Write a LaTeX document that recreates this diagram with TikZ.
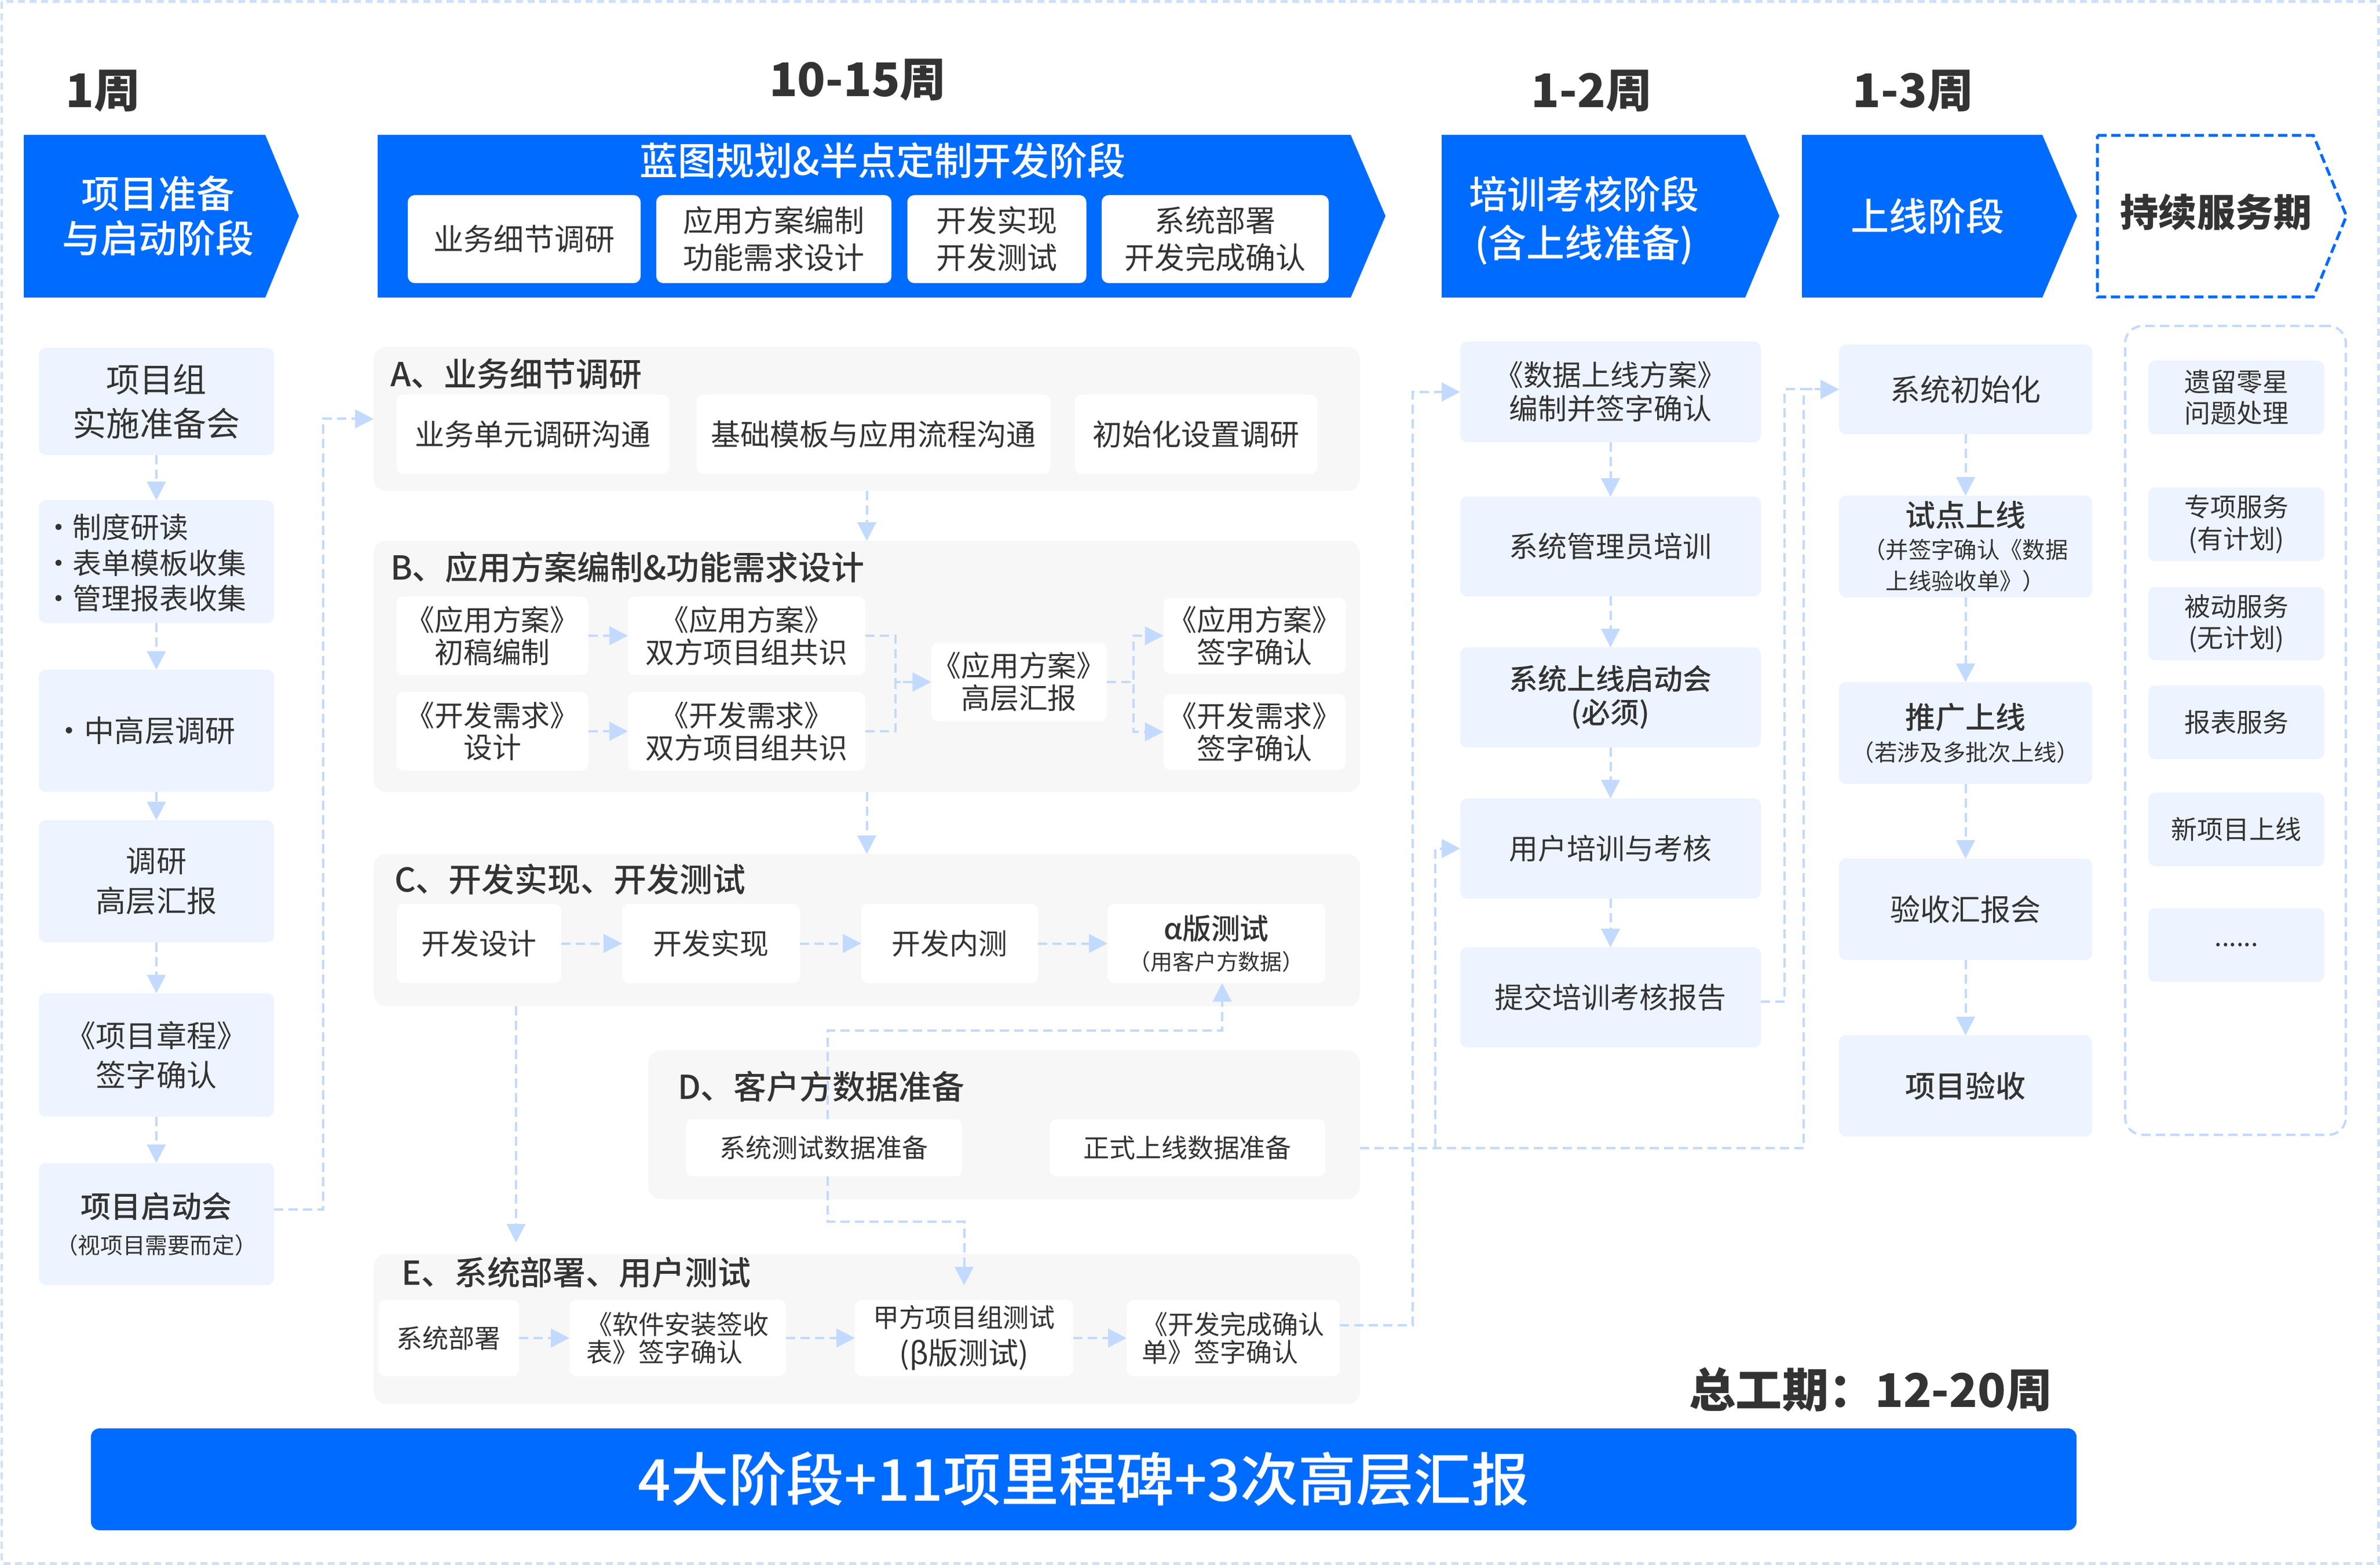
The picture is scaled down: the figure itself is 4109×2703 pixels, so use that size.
\documentclass[tikz,border=0pt]{standalone}
\usepackage{fontspec}
\setmainfont{Noto Sans CJK SC}
\newfontfamily\medf{Noto Sans CJK SC Medium}
\usetikzlibrary{arrows.meta}
\definecolor{pblue}{HTML}{006BFF}
\definecolor{lbox}{HTML}{EDF4FF}
\definecolor{gsec}{HTML}{F7F7F7}
\definecolor{cline}{HTML}{C2DAFF}
\definecolor{framec}{HTML}{CFE0FB}
\definecolor{txt}{HTML}{333333}
\newcommand\fs[2]{\fontsize{#1pt}{#2pt}\selectfont}
\tikzset{
  sz/.style 2 args={minimum width=#1*0.1mm, minimum height=#2*0.1mm},
  base/.style={inner sep=0pt, outer sep=0pt, text=txt, align=center},
  lb/.style={base, fill=lbox, rounded corners=1.2mm},
  wb/.style={base, fill=white, rounded corners=1.2mm},
  sec/.style={base, fill=gsec, rounded corners=2.2mm},
  ttl/.style={base, anchor=west, font=\medf\fs{16.2}{19}},
  wk/.style={base, font=\bfseries\fs{22.8}{26}},
  ph/.style={base, text=white, font=\medf\fs{18.8}{21.9}},
  conn/.style={color=cline, line width=0.4mm, dash pattern=on 1.6mm off 0.9mm, -{Triangle[length=3.2mm,width=3.2mm]}},
  fL/.style={font=\fs{14.8}{19.4}},
  fA/.style={font=\fs{14.5}{17}},
  fB/.style={font=\fs{14.2}{15.9}},
  fC/.style={font=\fs{14.2}{15.1}},
  fD/.style={font=\fs{12.8}{14}},
  fR/.style={font=\fs{14.2}{16.5}},
  fS/.style={font=\fs{14.8}{15.6}},
  fT/.style={font=\fs{12.8}{15.6}},
}
\begin{document}
\begin{tikzpicture}[x=0.1mm,y=-0.1mm]
\useasboundingbox (0,0) rectangle (4109,2703);
\fill[white] (0,0) rectangle (4109,2703);
\draw[framec, line width=0.5mm, dash pattern=on 1.2mm off 0.8mm] (3,3) rectangle (4106,2700);

% week labels
\node[wk] (w1) at (178,157) {1周};
\node[wk] (w2) at (1481,138) {10-15周};
\node[wk] (w3) at (2748,157) {1-2周};
\node[wk] (w4) at (3303,157) {1-3周};

% phase banners
\fill[pblue] (41,233) -- (458,233) -- (516,373) -- (458,514) -- (41,514) -- cycle;
\node[ph] (ph1) at (273,373) {项目准备\\与启动阶段};
\fill[pblue] (652,233) -- (2332,233) -- (2392,373) -- (2332,514) -- (652,514) -- cycle;
\node[ph] (ph2) at (1524,277) {蓝图规划\&半点定制开发阶段};
\node[wb, sz={402}{152}, font=\fs{14.8}{18.2}] (p1) at (905,413) {业务细节调研};
\node[wb, sz={406}{152}, font=\fs{14.8}{18.2}] (p2) at (1336,413) {应用方案编制\\功能需求设计};
\node[wb, sz={309}{152}, font=\fs{14.8}{18.2}] (p3) at (1721,413) {开发实现\\开发测试};
\node[wb, sz={392}{152}, font=\fs{14.8}{18.2}] (p4) at (2098,413) {系统部署\\开发完成确认};
\fill[pblue] (2489,233) -- (3013,233) -- (3072,373) -- (3013,514) -- (2489,514) -- cycle;
\node[ph, font=\medf\fs{18.8}{23.9}] (ph3) at (2735,381) {培训考核阶段\\(含上线准备)};
\fill[pblue] (3111,233) -- (3526,233) -- (3586,373) -- (3526,514) -- (3111,514) -- cycle;
\node[ph] (ph4) at (3328,373) {上线阶段};
\draw[pblue, line width=0.5mm, dash pattern=on 1.6mm off 0.8mm] (3621,234) -- (3994,234) -- (4051,373) -- (3994,513) -- (3621,513) -- cycle;
\node[ph, text=txt, font=\bfseries\fs{18.8}{21.9}] (ph5) at (3826,366) {持续服务期};

% left column
\node[lb, sz={406}{185}, font=\fs{16.5}{21.6}] (L1) at (270,693.5) {项目组\\实施准备会};
\node[lb, sz={406}{212}] (L2) at (270,970) {};
\node[base, anchor=west, align=left, font=\fs{14.2}{17.6}] (L2t) at (76,972) {•制度研读\\•表单模板收集\\•管理报表收集};
\node[lb, sz={406}{211}, fL] (L3) at (270,1262) {\hspace*{-4mm}•中高层调研};
\node[lb, sz={406}{211}, fL] (L4) at (270,1522) {调研\\高层汇报};
\node[lb, sz={406}{213}, fL] (L5) at (270,1822) {《项目章程》\\签字确认};
\node[lb, sz={406}{211}, font=\fs{11}{17.6}] (L6) at (270,2114) {{\medf\fs{14.8}{17.6}项目启动会}\\（视项目需要而定）};

% sections
\node[sec, sz={1703}{249}] (A) at (1496.5,723.5) {};
\node[ttl] (At) at (674,646) {A、业务细节调研};
\node[wb, sz={471}{137}, fA] (a1) at (920,750) {业务单元调研沟通};
\node[wb, sz={611}{137}, fA] (a2) at (1508,750) {基础模板与应用流程沟通};
\node[wb, sz={419}{137}, fA] (a3) at (2065,750) {初始化设置调研};

\node[sec, sz={1703}{434}] (B) at (1496.5,1151) {};
\node[ttl] (Bt) at (674,980) {B、应用方案编制\&功能需求设计};
\node[wb, sz={331}{136}, fB] (b1) at (850,1098) {《应用方案》\\初稿编制};
\node[wb, sz={410}{136}, fB] (b2) at (1289,1098) {《应用方案》\\双方项目组共识};
\node[wb, sz={331}{136}, fB] (b3) at (850,1263) {《开发需求》\\设计};
\node[wb, sz={410}{136}, fB] (b4) at (1289,1263) {《开发需求》\\双方项目组共识};
\node[wb, sz={303}{136}, fB] (b5) at (1759,1178) {《应用方案》\\高层汇报};
\node[wb, sz={315}{131}, fB] (b6) at (2166,1098) {《应用方案》\\签字确认};
\node[wb, sz={315}{131}, fB] (b7) at (2166,1264) {《开发需求》\\签字确认};

\node[sec, sz={1703}{263}] (C) at (1496.5,1606.5) {};
\node[ttl] (Ct) at (681,1519) {C、开发实现、开发测试};
\node[wb, sz={284}{137}, fC] (c1) at (827,1629.5) {开发设计};
\node[wb, sz={307}{137}, fC] (c2) at (1227.5,1629.5) {开发实现};
\node[wb, sz={305}{137}, fC] (c3) at (1639.5,1629.5) {开发内测};
\node[wb, sz={376}{137}, font=\fs{10.8}{15.1}] (c4) at (2100,1629.5) {{\medf\fs{14.2}{15.1}α版测试}\\（用客户方数据）};

\node[sec, sz={1229}{257}] (D) at (1733.5,1942.5) {};
\node[ttl] (Dt) at (1170,1877) {D、客户方数据准备};
\node[wb, sz={477}{99}, fD] (d1) at (1422.5,1982.5) {系统测试数据准备};
\node[wb, sz={476}{99}, fD] (d2) at (2050,1982.5) {正式上线数据准备};

\node[sec, sz={1703}{259}] (E) at (1496.5,2295.5) {};
\node[ttl] (Et) at (693,2198) {E、系统部署、用户测试};
\node[wb, sz={243}{132}, fD] (e1) at (774.5,2311) {系统部署};
\node[wb, sz={374}{132}, align=left, font=\fs{12.8}{13.7}] (e2) at (1170,2311) {《软件安装签收\\表》签字确认};
\node[wb, sz={377}{132}, font=\fs{14.8}{18.2}] (e3) at (1664.5,2311) {{\fs{12.8}{18.2}甲方项目组测试}\\(β版测试)};
\node[wb, sz={368}{132}, align=left, font=\fs{12.8}{13.7}] (e4) at (2129,2311) {《开发完成确认\\单》签字确认};

% training column
\node[lb, sz={519}{174}, fR] (r1) at (2780.5,677) {《数据上线方案》\\编制并签字确认};
\node[lb, sz={519}{172}, fR] (r2) at (2780.5,944) {系统管理员培训};
\node[lb, sz={519}{173}, font=\medf\fs{14.2}{16.5}] (r3) at (2780.5,1204.5) {系统上线启动会\\(必须)};
\node[lb, sz={519}{173}, fR] (r4) at (2780.5,1465.5) {用户培训与考核};
\node[lb, sz={519}{173}, fR] (r5) at (2780.5,1722.5) {提交培训考核报告};

% go-live column
\node[lb, sz={437}{155}, fS] (s1) at (3393.5,672.5) {系统初始化};
\node[lb, sz={437}{176}, font=\fs{11.2}{15.6}] (s2) at (3393.5,944) {{\medf\fs{14.8}{15.6}试点上线}\\（并签字确认《数据\\上线验收单》）};
\node[lb, sz={437}{176}, font=\fs{11.2}{15.9}] (s3) at (3393.5,1266) {{\medf\fs{14.8}{15.9}推广上线}\\（若涉及多批次上线）};
\node[lb, sz={437}{175}, fS] (s4) at (3393.5,1570.5) {验收汇报会};
\node[lb, sz={437}{175}, font=\medf\fs{14.8}{15.6}] (s5) at (3393.5,1875.5) {项目验收};

% continuous service column
\node[base, draw=cline, line width=0.4mm, dash pattern=on 1.6mm off 0.9mm, rounded corners=3mm, sz={381}{1397}] (T) at (3859.5,1261.5) {};
\node[lb, sz={304}{127}, fT] (t1) at (3861,686.5) {遗留零星\\问题处理};
\node[lb, sz={304}{127}, fT] (t2) at (3861,905.5) {专项服务\\(有计划)};
\node[lb, sz={304}{127}, fT] (t3) at (3861,1077) {被动服务\\(无计划)};
\node[lb, sz={304}{127}, fT] (t4) at (3861,1247.5) {报表服务};
\node[lb, sz={304}{127}, fT] (t5) at (3861,1432.5) {新项目上线};
\node[lb, sz={304}{127}, fT] (t6) at (3861,1632) {......};

% totals
\node[wk] (tot) at (3230,2400) {总工期：12-20周};
\node[base, fill=pblue, rounded corners=1.5mm, sz={3428}{176}, text=white, font=\medf\fs{28.4}{32}] (ban) at (1871,2555) {4大阶段+11项里程碑+3次高层汇报};

% helper coordinates
\coordinate (xce) at (891,0);
\coordinate (xd) at (1429,0);
\coordinate (xc4) at (2110,0);
\coordinate (x2439) at (2439,0);
\coordinate (x2478) at (2478,0);
\coordinate (x3081) at (3081,0);
\coordinate (x3114) at (3114,0);

% connectors: left column
\draw[conn] (L1) -- (L2);
\draw[conn] (L2) -- (L3);
\draw[conn] (L3) -- (L4);
\draw[conn] (L4) -- (L5);
\draw[conn] (L5) -- (L6);
\draw[conn] ([yshift=2.5mm]L6.east) -- ++(85,0) |- (A.west);

% sections
\draw[conn] (A) -- (B);
\draw[conn] (b1) -- (b2);
\draw[conn] (b3) -- (b4);
\draw[conn] (b2.east) -- ++(52,0) |- (b5.west);
\draw[conn] (b4.east) -- ++(52,0) |- (b5.west);
\draw[conn] (b5.east) -- ++(46,0) |- (b6.west);
\draw[conn] (b5.east) -- ++(46,0) |- (b7.west);
\draw[conn] (B) -- (C);
\draw[conn] (c1) -- (c2);
\draw[conn] (c2) -- (c3);
\draw[conn] (c3) -- (c4);
\draw[conn, shorten >=2mm] (C.south -| xce) -- (E.north -| xce);
\draw[conn] (d1.north -| xd) -- ++(0,-153) -| (c4.south -| xc4);
\draw[conn, shorten >=2.5mm] (d1.south -| xd) -- ++(0,78) -| (e3.north);
\draw[conn] (e1) -- (e2);
\draw[conn] (e2) -- (e3);
\draw[conn] (e3) -- (e4);

% to the right columns
\draw[conn] ([yshift=2.2mm]e4.east) -| (x2439 |- r1.west) -- (r1.west);
\draw[conn] (D.east |- d2) -| (x3114 |- s1.west) -- (s1.west);
\draw[conn] (x2478 |- d2) -- (x2478 |- r4.west) -- (r4.west);
\draw[conn] ([yshift=-0.75mm]r5.east) -| (x3081 |- s1.west) -- (s1.west);

\draw[conn] (r1) -- (r2);
\draw[conn] (r2) -- (r3);
\draw[conn] (r3) -- (r4);
\draw[conn] (r4) -- (r5);
\draw[conn] (s1) -- (s2);
\draw[conn] (s2) -- (s3);
\draw[conn] (s3) -- (s4);
\draw[conn] (s4) -- (s5);
\end{tikzpicture}
\end{document}
